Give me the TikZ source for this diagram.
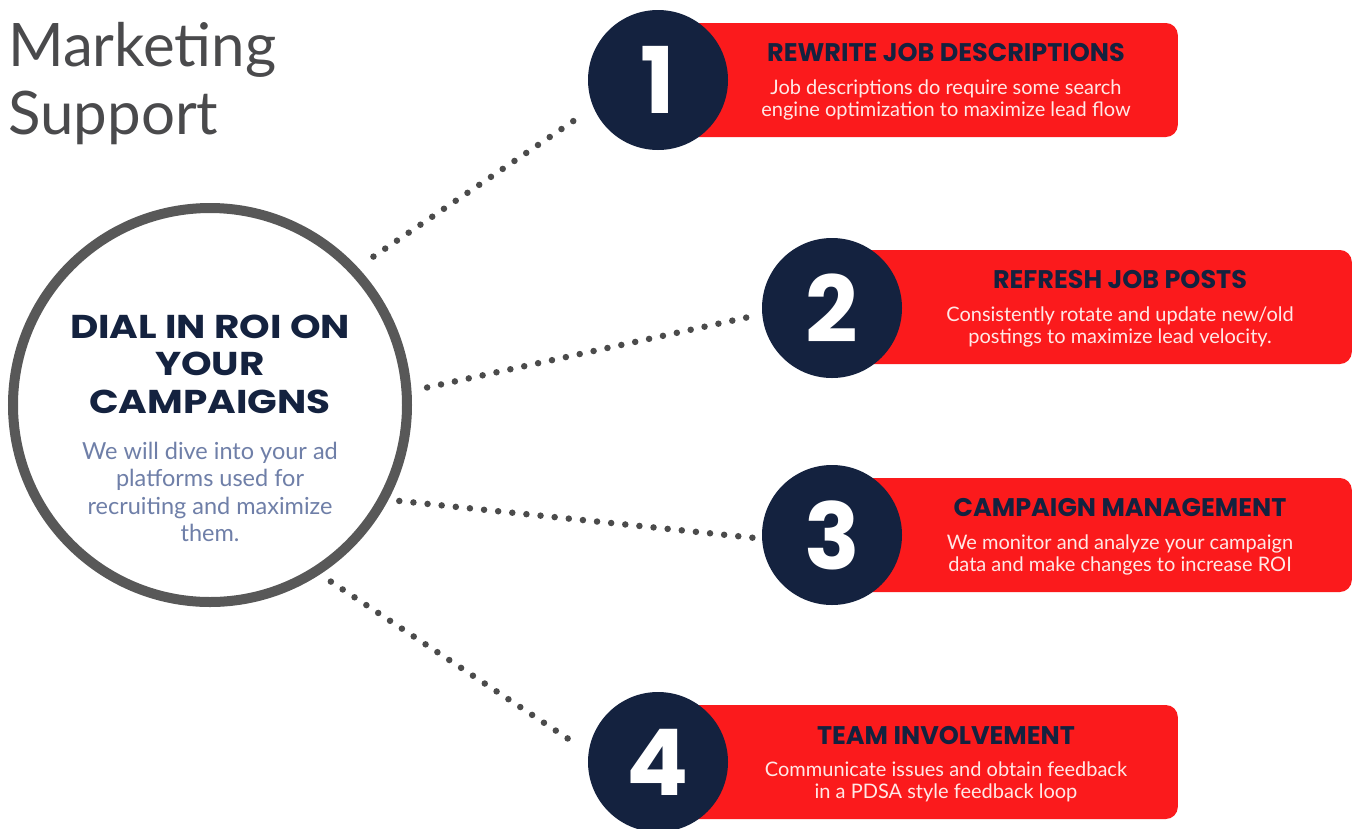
\documentclass[tikz,border=0pt]{standalone}
\usepackage{fontspec}
\setmainfont{Lato}
\newfontfamily\digitfont{Poppins}
\newfontfamily\hubfont{Poppins}[FakeStretch=1.18]
\usetikzlibrary{positioning}

\definecolor{navy}{HTML}{14223F}
\definecolor{boxred}{HTML}{FB1A1C}
\definecolor{dotgray}{HTML}{4B4B4B}
\definecolor{ringgray}{HTML}{585858}
\definecolor{titlegray}{HTML}{4A4A4C}
\definecolor{slate}{HTML}{6F7FA8}
\definecolor{paleink}{HTML}{FFE8E6}

\tikzset{
  hubring/.style={circle, draw=ringgray, line width=10pt, minimum size=394pt, fill=white},
  hubhead/.style={text=navy, align=center, inner sep=0pt, font=\hubfont\bfseries\fontsize{33}{37.5}\selectfont},
  hubbody/.style={text=slate, align=center, inner sep=0pt, font=\fontsize{23.5}{27.5}\selectfont},
  badge/.style={circle, fill=navy, minimum size=140pt, inner sep=0pt, text=white, font=\digitfont\bfseries\fontsize{92}{92}\selectfont},
  redbox/.style={rectangle, rounded corners=12pt, fill=boxred, minimum width=540pt, minimum height=114pt, anchor=east},
  boxhead/.style={text=navy, inner sep=0pt, font=\digitfont\bfseries\fontsize{25.5}{27}\selectfont},
  boxbody/.style={text=paleink, align=center, inner sep=0pt, font=\fontsize{20}{22.5}\selectfont},
  dotline/.style={dotgray, line width=6.5pt, line cap=round, dash pattern=on 0pt off 14.2pt},
}

\begin{document}
\begin{tikzpicture}[x=1pt,y=-1pt]
\useasboundingbox[fill=white] (0,0) rectangle (1355,828);

\node[anchor=north west, align=left, inner sep=0pt, text=titlegray, font=\fontsize{60}{68}\selectfont] (title) at (8,22) {Marketing\\Support};

\node[hubring] (hub) at (210,405) {};
\node[hubhead] (hubhead) at (210,364) {DIAL IN ROI ON\\YOUR\\CAMPAIGNS};
\node[hubbody] (hubtext) at (210,492) {We will dive into your ad\\platforms used for\\recruiting and maximize\\them.};

\node[redbox] (b1) at (1178,80) {};
\node[redbox] (b2) at (1352,307) {};
\node[redbox] (b3) at (1352,535) {};
\node[redbox] (b4) at (1178,762) {};

\node[badge] (n1) at (658,80) {1};
\node[badge] (n2) at (832,308) {2};
\node[badge] (n3) at (832,535) {3};
\node[badge] (n4) at (658,762) {4};

\node[boxhead] (h1) at ([xshift=-232pt,yshift=27pt]b1.east) {REWRITE JOB DESCRIPTIONS};
\node[boxbody, below=17pt of h1] (t1) {Job descriptions do require some search\\engine optimization to maximize lead flow};
\node[boxhead] (h2) at ([xshift=-232pt,yshift=27pt]b2.east) {REFRESH JOB POSTS};
\node[boxbody, below=17pt of h2] (t2) {Consistently rotate and update new/old\\postings to maximize lead velocity.};
\node[boxhead] (h3) at ([xshift=-232pt,yshift=27pt]b3.east) {CAMPAIGN MANAGEMENT};
\node[boxbody, below=17pt of h3] (t3) {We monitor and analyze your campaign\\data and make changes to increase ROI};
\node[boxhead] (h4) at ([xshift=-232pt,yshift=27pt]b4.east) {TEAM INVOLVEMENT};
\node[boxbody, below=17pt of h4] (t4) {Communicate issues and obtain feedback\\in a PDSA style feedback loop};

\draw[dotline, shorten <=19pt, shorten >=17pt] (hub.43) -- (n1.203);
\draw[dotline, shorten <=16pt, shorten >=10pt] (hub.4) -- (n2.185);
\draw[dotline, shorten <=11pt, shorten >=9pt] (hub.-28) -- (n3.183);
\draw[dotline, shorten <=13pt, shorten >=13pt] (hub.-57) -- (n4.172);
\end{tikzpicture}
\end{document}
